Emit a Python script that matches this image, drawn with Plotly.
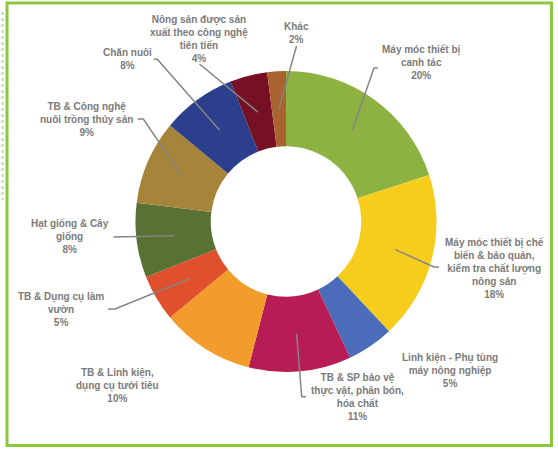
import math
import plotly.graph_objects as go

W, H = 558, 450

labels = [
    "Máy móc thiết bị<br>canh tác",
    "Máy móc thiết bị chế<br>biến & bảo quản,<br>kiểm tra chất lượng<br>nông sản",
    "Linh kiện - Phụ tùng<br>máy nông nghiệp",
    "TB & SP bảo vệ<br>thực vật, phân bón,<br>hóa chất",
    "TB & Linh kiện,<br>dụng cụ tưới tiêu",
    "TB & Dụng cụ làm<br>vườn",
    "Hạt giống & Cây<br>giống",
    "TB & Công nghệ<br>nuôi trồng thủy sản",
    "Chăn nuôi",
    "Nông sản được sản<br>xuất theo công nghệ<br>tiên tiến",
    "Khác",
]
values = [20, 18, 5, 11, 10, 5, 8, 9, 8, 4, 2]
colors = ["#8db241", "#f7cd1d", "#4b6cb8", "#b71c55", "#f29c2b", "#e0502c",
          "#5a7134", "#a6853a", "#2c3f8c", "#761024", "#a8632e"]

# layout (pixel) positions of label blocks and leader-line elbows
label_pos = [(421.7, 62), (494, 268), (450, 370), (358, 397), (117.4, 385),
             (60.5, 309), (70, 237), (86, 119), (127.4, 59), (199.3, 39), (296, 33)]
elbows = [
    [(378, 68), (374, 68)],
    [(439, 267), (434, 267)],
    None,
    [(306, 396.7), (301.7, 396.7)],
    None,
    [(108, 309), (115, 309)],
    [(113.5, 237)],
    [(137.7, 119), (143.3, 119)],
    [(153.7, 59.3), (157.3, 59.3)],
    [(199.5, 64)],
    [(296.5, 46)],
]

cx, cy, R, hole = 286, 221.5, 150.5, 0.5

def px(x):
    return x / W

def py(y):
    return 1 - y / H

fig = go.Figure(go.Pie(
    values=values,
    labels=[l.replace("<br>", " ") for l in labels],
    marker=dict(colors=colors, line=dict(width=0)),
    hole=hole,
    sort=False,
    direction="clockwise",
    rotation=0,
    textinfo="none",
    hoverinfo="label+percent",
    showlegend=False,
    domain=dict(x=[px(cx - R), px(cx + R)], y=[py(cy + R), py(cy - R)]),
))

total = sum(values)
shapes = []
annotations = []
cum = 0
rmid = R * (1 + hole) / 2
for i, v in enumerate(values):
    mid = (cum + v / 2) / total * 2 * math.pi
    cum += v
    sx = cx + rmid * math.sin(mid)
    sy = cy - rmid * math.cos(mid)
    pct = round(v / total * 100)
    tx, ty = label_pos[i]
    annotations.append(dict(
        x=px(tx), y=py(ty), xref="paper", yref="paper",
        text=f"{labels[i]}<br>{pct}%", showarrow=False,
        xanchor="center", yanchor="middle", align="center",
        font=dict(family="Liberation Sans, Arial, sans-serif", size=10,
                  color="#7b7b7b", weight="bold"),
    ))
    if elbows[i]:
        pts = elbows[i] + [(sx, sy)]
        path = "M " + " L ".join(f"{px(x):.5f},{py(y):.5f}" for x, y in pts)
        shapes.append(dict(type="path", path=path, xref="paper", yref="paper",
                           line=dict(color="#858585", width=1.5)))

# frame
shapes.append(dict(type="rect", xref="paper", yref="paper",
                   x0=px(7), x1=px(551.5), y0=py(445.5), y1=py(3),
                   line=dict(color="#8dc63f", width=3)))
shapes.append(dict(type="line", xref="paper", yref="paper",
                   x0=px(2.5), x1=px(2.5), y0=py(12), y1=py(200),
                   line=dict(color="#cfe6b4", width=3, dash="dot")))

fig.update_layout(
    width=W, height=H,
    margin=dict(l=0, r=0, t=0, b=0),
    paper_bgcolor="white", plot_bgcolor="white",
    shapes=shapes, annotations=annotations,
)

fig.write_html("out.html", config={"displayModeBar": False},
               post_script="document.body.style.margin='0';document.body.style.overflow='hidden';")
